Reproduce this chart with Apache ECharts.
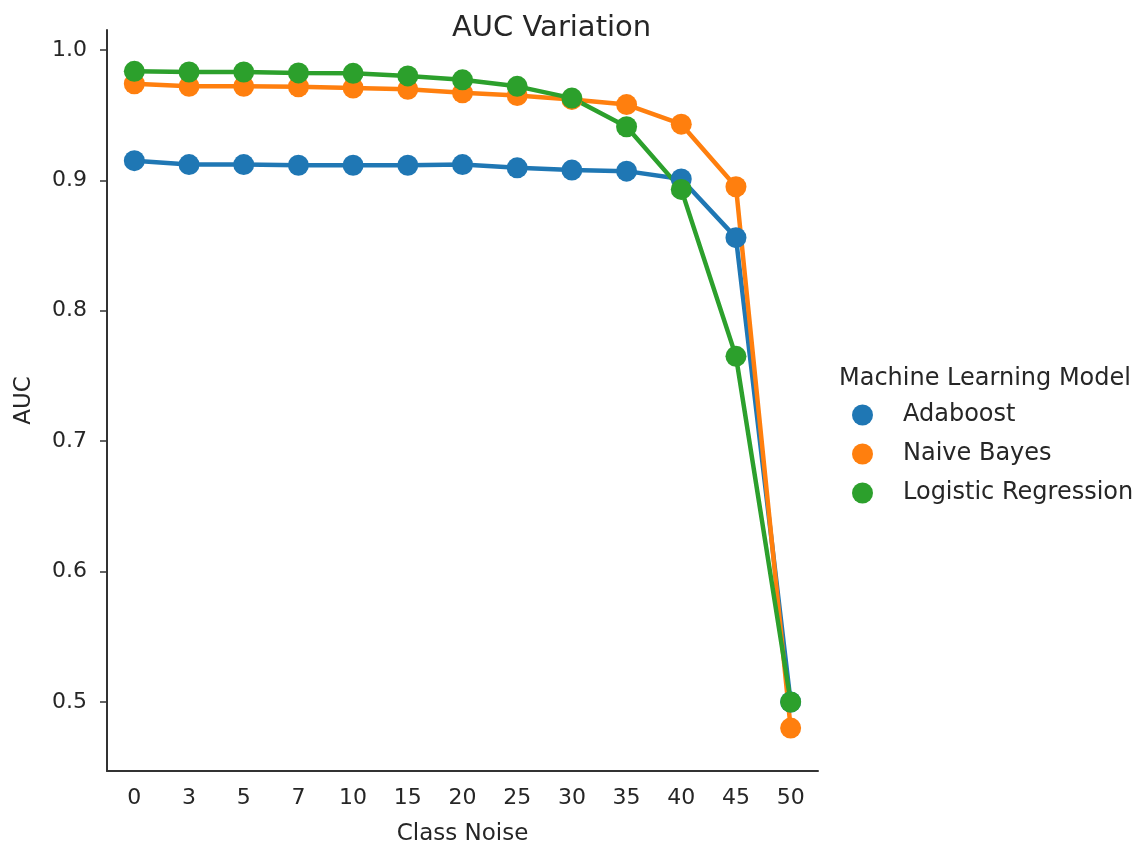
<!DOCTYPE html>
<html>
<head>
<meta charset="utf-8">
<title>AUC Variation</title>
<script src="https://cdn.jsdelivr.net/npm/echarts@6/dist/echarts.min.js"></script>
<style>
  html, body { margin: 0; padding: 0; background: #fff; }
  #chart { width: 1142px; height: 851px; }
</style>
</head>
<body>
<div id="chart"></div>
<script>
// categories on the x axis (class noise %)
const classNoise = ['0', '3', '5', '7', '10', '15', '20', '25', '30', '35', '40', '45', '50'];

// AUC per model
const adaboost = [0.915, 0.912, 0.912, 0.9115, 0.9115, 0.9115, 0.912, 0.9095, 0.9078, 0.907, 0.901, 0.856, 0.500];
const naiveBayes = [0.974, 0.972, 0.972, 0.9717, 0.9707, 0.9697, 0.967, 0.965, 0.962, 0.958, 0.943, 0.895, 0.480];
const logisticRegression = [0.9835, 0.983, 0.983, 0.9823, 0.982, 0.980, 0.977, 0.972, 0.963, 0.941, 0.893, 0.765, 0.500];

const yTicks = [0.5, 0.6, 0.7, 0.8, 0.9, 1.0];

const modelNames = ['Adaboost', 'Naive Bayes', 'Logistic Regression'];
const colors = ['#1f77b4', '#ff7f0e', '#2ca02c'];

const textColor = '#262626';
const fontFamily = 'DejaVu Sans';

const chart = echarts.init(document.getElementById('chart'));

const makeSeries = (name, values, color) => ({
  name: name,
  type: 'line',
  data: values,
  symbol: 'circle',
  symbolSize: 21,
  showSymbol: true,
  lineStyle: { width: 4.5, color: color },
  itemStyle: { color: color },
  emphasis: { disabled: true },
  animation: false
});

const option = {
  backgroundColor: '#fff',
  textStyle: { fontFamily: fontFamily },
  title: [
    {
      text: 'AUC Variation',
      left: 447,
      top: 9,
      textStyle: { fontSize: 29, fontWeight: 'normal', color: textColor, fontFamily: fontFamily }
    },
    {
      text: 'Machine Learning Model',
      left: 834,
      top: 362,
      textStyle: { fontSize: 24, fontWeight: 'normal', color: textColor, fontFamily: fontFamily }
    }
  ],
  legend: {
    orient: 'vertical',
    left: 847,
    top: 398,
    icon: 'circle',
    itemWidth: 21,
    itemHeight: 21,
    itemGap: 15,
    data: modelNames,
    textStyle: { fontSize: 24, color: textColor, padding: [0, 0, 0, 25], fontFamily: fontFamily }
  },
  grid: {
    left: 107,
    right: 324,
    top: 30,
    bottom: 72,
    containLabel: false
  },
  xAxis: {
    type: 'category',
    data: classNoise,
    boundaryGap: true,
    name: 'Class Noise',
    nameLocation: 'middle',
    nameGap: 52,
    nameTextStyle: { fontSize: 23, color: textColor },
    axisLine: { lineStyle: { color: '#333', width: 2 } },
    axisTick: { alignWithLabel: true, length: 7, lineStyle: { color: '#333', width: 1.5 } },
    axisLabel: { fontSize: 22, color: textColor, margin: 16 },
    splitLine: { show: false }
  },
  yAxis: {
    type: 'value',
    min: 0.4471,
    max: 1.0152,
    name: 'AUC',
    nameLocation: 'middle',
    nameGap: 71,
    nameTextStyle: { fontSize: 23, color: textColor },
    axisLine: { show: true, lineStyle: { color: '#333', width: 2 } },
    axisTick: { show: true, length: 7, customValues: yTicks, lineStyle: { color: '#333', width: 1.5 } },
    axisLabel: {
      fontSize: 22,
      color: textColor,
      margin: 20,
      customValues: yTicks,
      formatter: v => v.toFixed(1)
    },
    splitLine: { show: false }
  },
  series: [
    makeSeries(modelNames[0], adaboost, colors[0]),
    makeSeries(modelNames[1], naiveBayes, colors[1]),
    makeSeries(modelNames[2], logisticRegression, colors[2])
  ]
};

chart.setOption(option);
</script>
</body>
</html>
